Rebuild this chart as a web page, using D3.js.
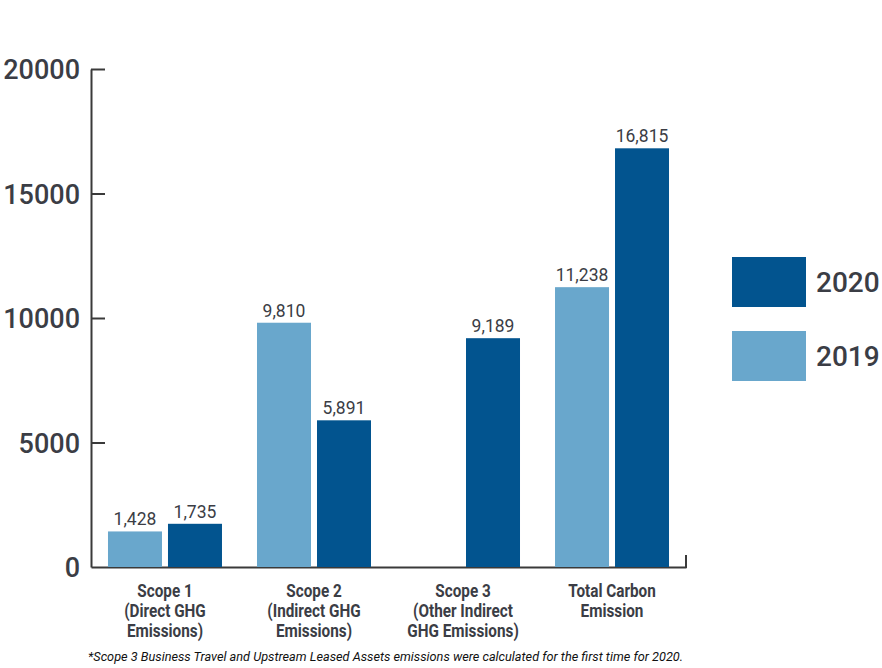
<!DOCTYPE html>
<html>
<head>
<meta charset="utf-8">
<script src="https://cdn.jsdelivr.net/npm/d3@7"></script>
<style>
  body { margin: 0; background: #fff; }
  svg { display: block; }
</style>
</head>
<body>
<div id="chart"></div>
<script>
// data
const categories = ['Scope 1|(Direct GHG|Emissions)', 'Scope 2|(Indirect GHG|Emissions)', 'Scope 3|(Other Indirect|GHG Emissions)', 'Total Carbon|Emission']
const years = ['2019', '2020']
const values2019 = [1428, 9810, null, 11238]
const values2020 = [1735, 5891, 9189, 16815]
const yTicks = [0, 5000, 10000, 15000, 20000]
const legendYears = ['2020', '2019']
const footnote = '*Scope 3 Business Travel and Upstream Leased Assets emissions were calculated for the first time for 2020.'

const colors = {'2019': '#69a7cc', '2020': '#02548f'}
const textColor = '#3b3d45'

const width = 882
const height = 668
const svg = d3.select('#chart').append('svg')
  .attr('width', width)
  .attr('height', height)

let x0 = d3.scaleBand().domain(categories).range([91, 686]).paddingInner(0.235).paddingOuter(0.114)
let x1 = d3.scaleBand().domain(years).range([0, x0.bandwidth()]).paddingInner(0.1)
let y = d3.scaleLinear().domain([0, 20000]).range([567, 69])

// y axis, ticks point inwards
let yAxis = svg.append('g')
  .attr('transform', 'translate(91,0)')
  .call(d3.axisLeft(y).tickValues(yTicks).tickFormat(d3.format('d')).tickSizeInner(-14).tickSizeOuter(0).tickPadding(11))
yAxis.selectAll('path, line').attr('stroke', '#3a3a3a').attr('stroke-width', 2)
yAxis.selectAll('text')
  .attr('fill', textColor)
  .attr('font-family', 'Roboto, sans-serif')
  .attr('font-weight', 500)
  .attr('font-size', 27)
  .attr('dy', '0.36em')
yAxis.selectAll('.tick').filter(d => d === 0).select('line').remove()

// x axis
let xAxis = svg.append('g')
  .attr('transform', 'translate(0,567)')
  .call(d3.axisBottom(x0).tickSize(0).tickSizeOuter(0).tickPadding(0))
xAxis.select('.domain').attr('stroke', '#3a3a3a').attr('stroke-width', 2)
xAxis.append('line')
  .attr('x1', 686).attr('x2', 686).attr('y1', 1).attr('y2', -12)
  .attr('stroke', '#3a3a3a').attr('stroke-width', 2)
// condensed look: squeeze the labels horizontally
xAxis.selectAll('.tick text').each(function (d) {
  let t = d3.select(this).text(null)
    .attr('fill', textColor)
    .attr('font-family', 'Roboto, sans-serif')
    .attr('font-weight', 'bold')
    .attr('font-size', 18)
    .attr('transform', 'scale(0.85,1)')
    .attr('y', 0)
    .attr('dy', null)
  d.split('|').forEach((line, i) => {
    t.append('tspan').attr('x', 0).attr('y', 30 + i * 20).text(line)
  })
})

// bars
let rows = categories.map((c, i) => ({cat: c, vals: [
  {year: '2019', value: values2019[i]},
  {year: '2020', value: values2020[i]}
].filter(v => v.value != null)}))

let groups = svg.append('g').selectAll('g').data(rows).enter().append('g')
  .attr('transform', d => `translate(${x0(d.cat)},0)`)

groups.selectAll('rect').data(d => d.vals).enter().append('rect')
  .attr('x', d => x1(d.year))
  .attr('width', x1.bandwidth())
  .attr('y', d => y(d.value))
  .attr('height', d => y(0) - y(d.value))
  .attr('fill', d => colors[d.year])

groups.selectAll('text').data(d => d.vals).enter().append('text')
  .attr('x', d => x1(d.year) + x1.bandwidth() / 2)
  .attr('y', d => y(d.value) - 6)
  .attr('text-anchor', 'middle')
  .attr('fill', textColor)
  .attr('font-family', 'Roboto, sans-serif')
  .attr('font-size', 17.5)
  .text(d => d3.format(',')(d.value))

// legend
let legend = svg.append('g').selectAll('g').data(legendYears).enter().append('g')
  .attr('transform', (d, i) => `translate(732,${257 + i * 74})`)
legend.append('rect')
  .attr('width', 74).attr('height', 50)
  .attr('fill', d => colors[d])
legend.append('text')
  .attr('x', 84).attr('y', 35)
  .attr('fill', textColor)
  .attr('font-family', 'Roboto, sans-serif')
  .attr('font-weight', 500)
  .attr('font-size', 28)
  .text(d => d)

// footnote
svg.append('text')
  .attr('x', 88).attr('y', 661)
  .attr('fill', '#111')
  .attr('font-family', 'Roboto, sans-serif')
  .attr('font-style', 'italic')
  .attr('font-size', 13)
  .attr('textLength', 595)
  .attr('lengthAdjust', 'spacingAndGlyphs')
  .text(footnote)
</script>
</body>
</html>
